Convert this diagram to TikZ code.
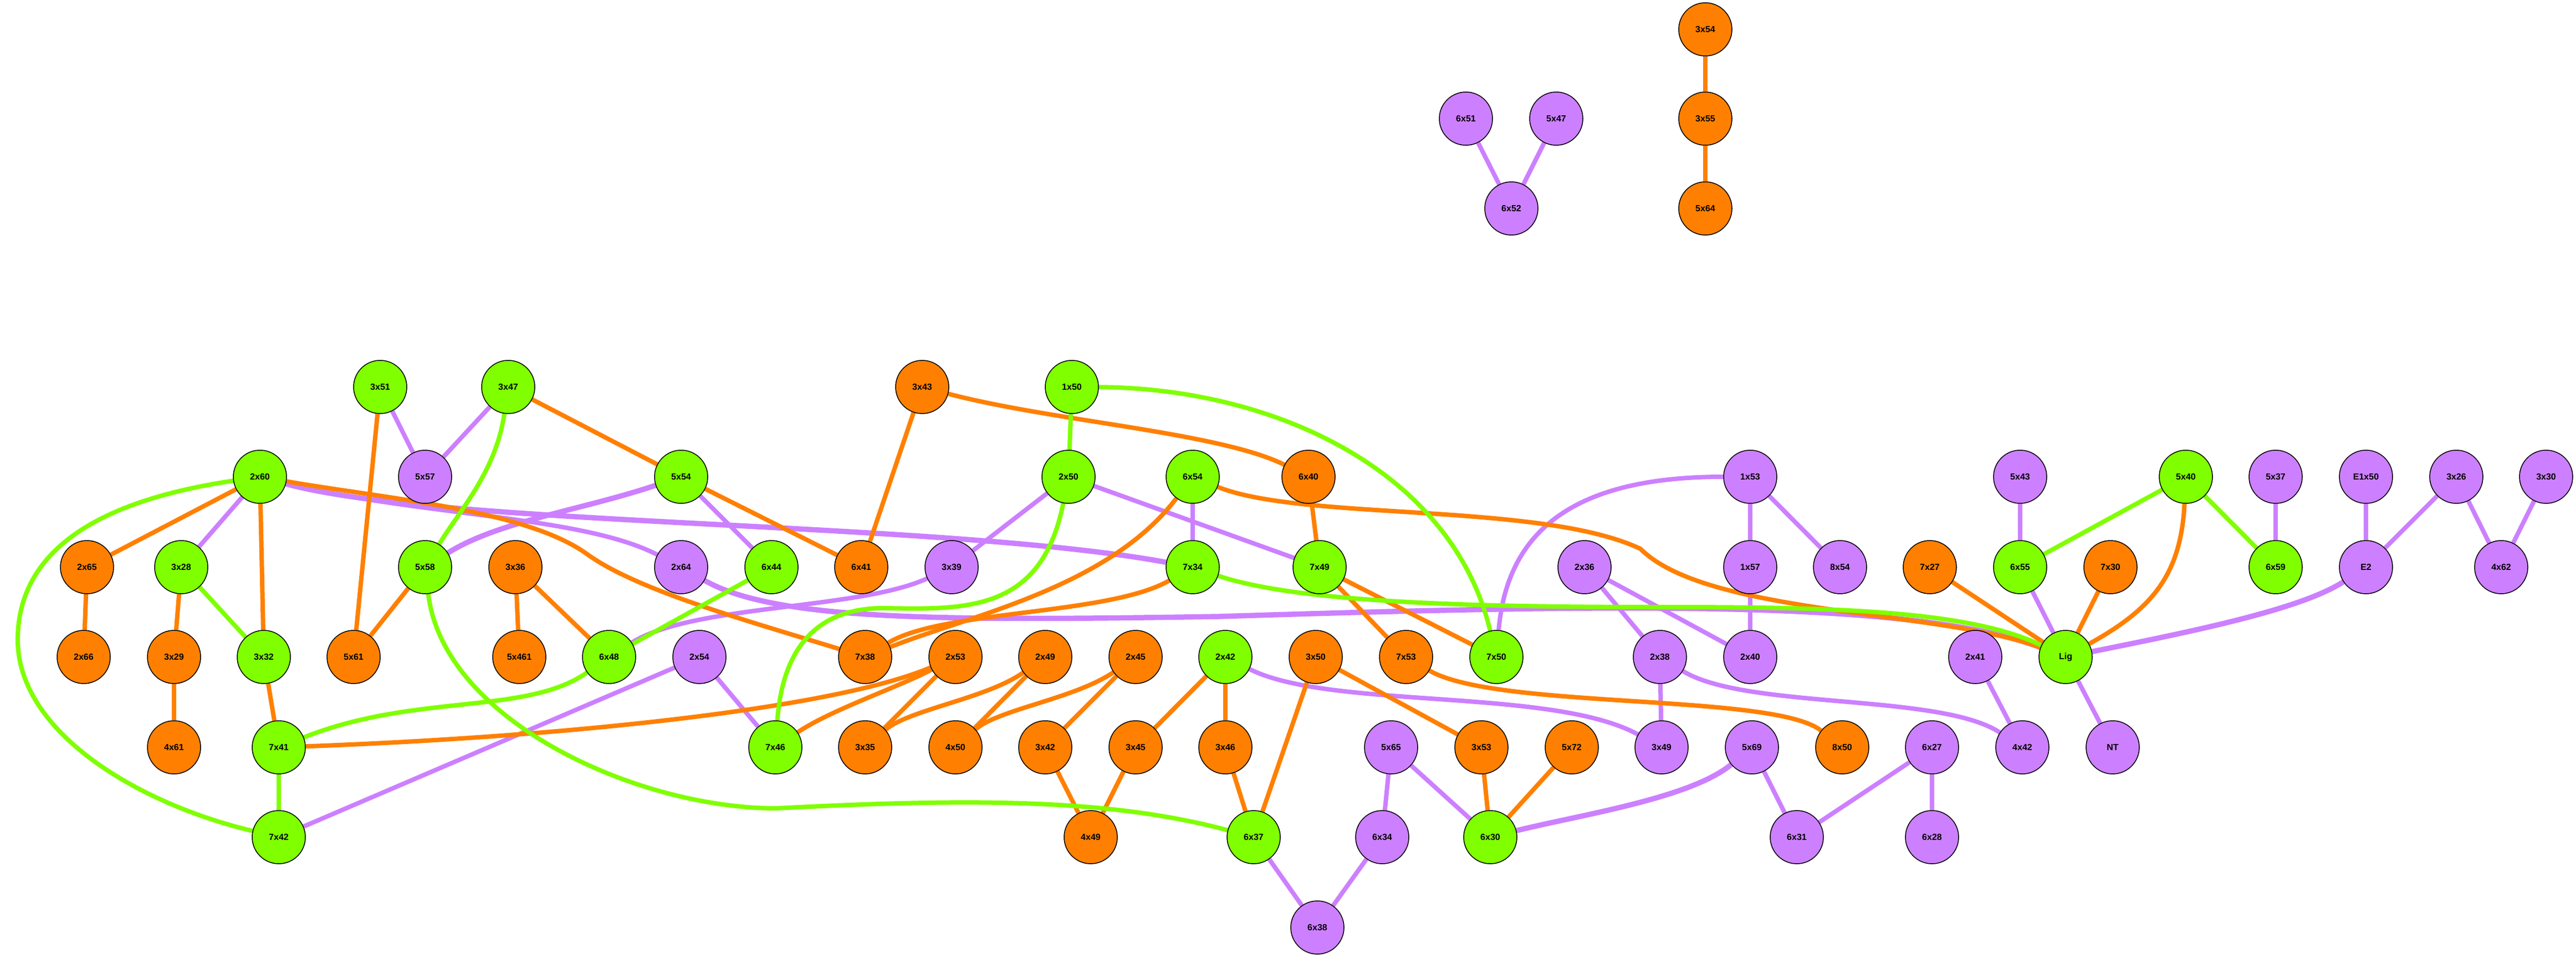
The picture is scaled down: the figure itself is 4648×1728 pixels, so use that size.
\documentclass[tikz,border=0pt]{standalone}
\usepackage{fontspec}
\setmainfont{Liberation Sans}
\usepackage{tikz}
\usetikzlibrary{backgrounds}
\definecolor{orangefill}{RGB}{255,128,0}
\definecolor{greenfill}{RGB}{128,255,0}
\definecolor{purplefill}{RGB}{204,128,255}
\tikzset{
  res/.style={circle, draw=black, line width=1.5pt, minimum size=96pt, inner sep=0pt, font=\fontsize{16}{19}\selectfont\bfseries},
  orangeres/.style={res, fill=orangefill},
  greenres/.style={res, fill=greenfill},
  purpleres/.style={res, fill=purplefill},
  orangelink/.style={draw=orangefill, line width=8pt},
  greenlink/.style={draw=greenfill, line width=8pt},
  purplelink/.style={draw=purplefill, line width=8pt},
  heavy/.style={line width=9.5pt}
}

\begin{document}
\begin{tikzpicture}[x=1pt, y=-1pt]
          \useasboundingbox (0,0) rectangle (4648,1728);

          \node[orangeres] (3x54) at (3077,53) {3x54};
          \node[orangeres] (3x55) at (3077,214) {3x55};
          \node[orangeres] (5x64) at (3077,376) {5x64};
          \node[purpleres] (6x51) at (2645,214) {6x51};
          \node[purpleres] (5x47) at (2808,214) {5x47};
          \node[purpleres] (6x52) at (2727,376) {6x52};

          \node[greenres] (3x51) at (686,698) {3x51};
          \node[greenres] (3x47) at (917,698) {3x47};
          \node[orangeres] (3x43) at (1664,698) {3x43};
          \node[greenres] (1x50) at (1934,698) {1x50};

          \node[greenres] (2x60) at (469,860) {2x60};
          \node[purpleres] (5x57) at (767,860) {5x57};
          \node[greenres] (5x54) at (1229,860) {5x54};
          \node[greenres] (2x50) at (1928,860) {2x50};
          \node[greenres] (6x54) at (2152,860) {6x54};
          \node[orangeres] (6x40) at (2361,860) {6x40};
          \node[purpleres] (1x53) at (3158,860) {1x53};
          \node[purpleres] (5x43) at (3645,860) {5x43};
          \node[greenres] (5x40) at (3944,860) {5x40};
          \node[purpleres] (5x37) at (4106,860) {5x37};
          \node[purpleres] (E1x50) at (4269,860) {E1x50};
          \node[purpleres] (3x26) at (4432,860) {3x26};
          \node[purpleres] (3x30) at (4594,860) {3x30};

          \node[orangeres] (2x65) at (157,1023) {2x65};
          \node[greenres] (3x28) at (327,1023) {3x28};
          \node[greenres] (5x58) at (767,1023) {5x58};
          \node[orangeres] (3x36) at (930,1023) {3x36};
          \node[purpleres] (2x64) at (1229,1023) {2x64};
          \node[greenres] (6x44) at (1392,1023) {6x44};
          \node[orangeres] (6x41) at (1554,1023) {6x41};
          \node[purpleres] (3x39) at (1717,1023) {3x39};
          \node[greenres] (7x34) at (2152,1023) {7x34};
          \node[greenres] (7x49) at (2381,1023) {7x49};
          \node[purpleres] (2x36) at (2859,1023) {2x36};
          \node[purpleres] (1x57) at (3158,1023) {1x57};
          \node[purpleres] (8x54) at (3320,1023) {8x54};
          \node[orangeres] (7x27) at (3482,1023) {7x27};
          \node[greenres] (6x55) at (3645,1023) {6x55};
          \node[orangeres] (7x30) at (3808,1023) {7x30};
          \node[greenres] (6x59) at (4106,1023) {6x59};
          \node[purpleres] (E2) at (4269,1023) {E2};
          \node[purpleres] (4x62) at (4513,1023) {4x62};

          \node[orangeres] (2x66) at (151,1185) {2x66};
          \node[orangeres] (3x29) at (314,1185) {3x29};
          \node[greenres] (3x32) at (476,1185) {3x32};
          \node[orangeres] (5x61) at (638,1185) {5x61};
          \node[orangeres] (5x461) at (937,1185) {5x461};
          \node[greenres] (6x48) at (1099,1185) {6x48};
          \node[purpleres] (2x54) at (1262,1185) {2x54};
          \node[orangeres] (7x38) at (1561,1185) {7x38};
          \node[orangeres] (2x53) at (1724,1185) {2x53};
          \node[orangeres] (2x49) at (1886,1185) {2x49};
          \node[orangeres] (2x45) at (2049,1185) {2x45};
          \node[greenres] (2x42) at (2211,1185) {2x42};
          \node[orangeres] (3x50) at (2374,1185) {3x50};
          \node[orangeres] (7x53) at (2537,1185) {7x53};
          \node[greenres] (7x50) at (2700,1185) {7x50};
          \node[purpleres] (2x38) at (2995,1185) {2x38};
          \node[purpleres] (2x40) at (3158,1185) {2x40};
          \node[purpleres] (2x41) at (3564,1185) {2x41};
          \node[greenres] (Lig) at (3727,1185) {Lig};

          \node[orangeres] (4x61) at (314,1348) {4x61};
          \node[greenres] (7x41) at (503,1348) {7x41};
          \node[greenres] (7x46) at (1399,1348) {7x46};
          \node[orangeres] (3x35) at (1561,1348) {3x35};
          \node[orangeres] (4x50) at (1724,1348) {4x50};
          \node[orangeres] (3x42) at (1886,1348) {3x42};
          \node[orangeres] (3x45) at (2049,1348) {3x45};
          \node[orangeres] (3x46) at (2211,1348) {3x46};
          \node[purpleres] (5x65) at (2510,1348) {5x65};
          \node[orangeres] (3x53) at (2673,1348) {3x53};
          \node[orangeres] (5x72) at (2836,1348) {5x72};
          \node[purpleres] (3x49) at (2998,1348) {3x49};
          \node[purpleres] (5x69) at (3161,1348) {5x69};
          \node[orangeres] (8x50) at (3324,1348) {8x50};
          \node[purpleres] (6x27) at (3486,1348) {6x27};
          \node[purpleres] (4x42) at (3649,1348) {4x42};
          \node[purpleres] (NT) at (3812,1348) {NT};

          \node[greenres] (7x42) at (503,1510) {7x42};
          \node[orangeres] (4x49) at (1968,1510) {4x49};
          \node[greenres] (6x37) at (2262,1510) {6x37};
          \node[purpleres] (6x34) at (2494,1510) {6x34};
          \node[greenres] (6x30) at (2689,1510) {6x30};
          \node[purpleres] (6x31) at (3242,1510) {6x31};
          \node[purpleres] (6x28) at (3486,1510) {6x28};
          \node[purpleres] (6x38) at (2377,1673) {6x38};

          \begin{pgfonlayer}{background}
          \fill[white] (0,0) rectangle (4648,1728);

          \draw[purplelink] (6x51) -- (6x52);
          \draw[purplelink] (5x47) -- (6x52);
          \draw[purplelink] (3x51) -- (5x57);
          \draw[purplelink] (3x47) -- (5x57);
          \draw[purplelink] (2x60) -- (3x28);
          \draw[purplelink] (5x54) -- (6x44);
          \draw[purplelink] (2x50) -- (3x39);
          \draw[purplelink] (2x50) -- (7x49);
          \draw[purplelink] (6x54) -- (7x34);
          \draw[purplelink] (1x53) -- (1x57);
          \draw[purplelink] (1x53) -- (8x54);
          \draw[purplelink] (1x57) -- (2x40);
          \draw[purplelink] (2x36) -- (2x38);
          \draw[purplelink] (2x36) -- (2x40);
          \draw[purplelink] (2x38) -- (3x49);
          \draw[purplelink] (5x43) -- (6x55);
          \draw[purplelink] (6x55) -- (Lig);
          \draw[purplelink] (5x37) -- (6x59);
          \draw[purplelink] (E1x50) -- (E2);
          \draw[purplelink] (3x26) -- (E2);
          \draw[purplelink] (3x26) -- (4x62);
          \draw[purplelink] (3x30) -- (4x62);
          \draw[purplelink] (2x41) -- (4x42);
          \draw[purplelink] (Lig) -- (NT);
          \draw[purplelink] (2x54) -- (7x46);
          \draw[purplelink] (2x54) -- (7x42);
          \draw[purplelink] (5x65) -- (6x34);
          \draw[purplelink] (5x65) -- (6x30);
          \draw[purplelink] (5x69) -- (6x31);
          \draw[purplelink] (6x27) -- (6x31);
          \draw[purplelink] (6x27) -- (6x28);
          \draw[purplelink] (6x34) -- (6x38);
          \draw[purplelink] (6x37) -- (6x38);
          \draw[purplelink, heavy] (2x60) .. controls (800,950) and (1700,940) .. (7x34);
          \draw[purplelink] (2x60) .. controls (750,930) and (1050,930) .. (2x64);
          \draw[purplelink, heavy] (5x54) .. controls (1050,920) and (900,940) .. (5x58);
          \draw[purplelink] (3x39) .. controls (1550,1100) and (1250,1090) .. (6x48);
          \draw[purplelink, heavy] (2x64) .. controls (1400,1120) and (1700,1120) .. (2200,1112) .. controls (2900,1090) and (3450,1080) .. (Lig);
          \draw[purplelink] (1x53) .. controls (2850,860) and (2720,950) .. (7x50);
          \draw[purplelink] (2x38) .. controls (3150,1280) and (3500,1250) .. (4x42);
          \draw[purplelink] (2x42) .. controls (2400,1280) and (2800,1240) .. (3x49);
          \draw[purplelink, heavy] (5x69) .. controls (3050,1440) and (2850,1470) .. (6x30);
          \draw[purplelink, heavy] (E2) .. controls (4150,1100) and (3950,1140) .. (Lig);

          \draw[orangelink] (3x54) -- (3x55);
          \draw[orangelink] (3x55) -- (5x64);
          \draw[orangelink] (3x51) -- (5x61);
          \draw[orangelink] (3x47) -- (5x54);
          \draw[orangelink] (2x60) -- (2x65);
          \draw[orangelink] (2x60) -- (3x32);
          \draw[orangelink] (2x65) -- (2x66);
          \draw[orangelink] (3x28) -- (3x29);
          \draw[orangelink] (3x29) -- (4x61);
          \draw[orangelink] (3x32) -- (7x41);
          \draw[orangelink] (5x58) -- (5x61);
          \draw[orangelink] (3x36) -- (5x461);
          \draw[orangelink] (3x36) -- (6x48);
          \draw[orangelink] (5x54) -- (6x41);
          \draw[orangelink] (3x43) -- (6x41);
          \draw[orangelink] (6x40) -- (7x49);
          \draw[orangelink] (7x49) -- (7x53);
          \draw[orangelink] (7x49) -- (7x50);
          \draw[orangelink] (2x53) -- (3x35);
          \draw[orangelink] (2x49) -- (4x50);
          \draw[orangelink] (2x45) -- (3x42);
          \draw[orangelink] (2x42) -- (3x45);
          \draw[orangelink] (2x42) -- (3x46);
          \draw[orangelink] (3x42) -- (4x49);
          \draw[orangelink] (3x45) -- (4x49);
          \draw[orangelink] (3x46) -- (6x37);
          \draw[orangelink] (3x50) -- (6x37);
          \draw[orangelink] (3x50) -- (3x53);
          \draw[orangelink] (3x53) -- (6x30);
          \draw[orangelink] (5x72) -- (6x30);
          \draw[orangelink] (7x27) -- (Lig);
          \draw[orangelink] (7x30) -- (Lig);
          \draw[orangelink] (2x60) .. controls (700,900) and (950,920) .. (1060,1000) .. controls (1150,1065) and (1350,1120) .. (7x38);
          \draw[orangelink] (3x43) .. controls (1900,760) and (2200,780) .. (6x40);
          \draw[orangelink] (6x54) .. controls (2000,1060) and (1750,1110) .. (7x38);
          \draw[orangelink] (7x34) .. controls (2000,1110) and (1700,1100) .. (7x38);
          \draw[orangelink] (6x54) .. controls (2350,940) and (2780,905) .. (2960,990) .. controls (3080,1110) and (3500,1100) .. (Lig);
          \draw[orangelink] (7x41) .. controls (1000,1330) and (1500,1280) .. (2x53);
          \draw[orangelink] (7x46) .. controls (1500,1280) and (1620,1240) .. (2x53);
          \draw[orangelink] (2x49) .. controls (1780,1260) and (1640,1280) .. (3x35);
          \draw[orangelink] (2x45) .. controls (1940,1260) and (1800,1280) .. (4x50);
          \draw[orangelink] (7x53) .. controls (2700,1280) and (3200,1250) .. (8x50);
          \draw[orangelink] (5x40) .. controls (3935,1040) and (3880,1100) .. (Lig);

          \draw[greenlink] (3x28) -- (3x32);
          \draw[greenlink] (7x41) -- (7x42);
          \draw[greenlink] (1x50) -- (2x50);
          \draw[greenlink] (6x44) -- (6x48);
          \draw[greenlink] (5x40) -- (6x55);
          \draw[greenlink] (5x40) -- (6x59);
          \draw[greenlink] (2x60) .. controls (200,900) and (35,980) .. (32,1150) .. controls (29,1320) and (250,1450) .. (7x42);
          \draw[greenlink] (3x47) .. controls (895,850) and (830,920) .. (5x58);
          \draw[greenlink] (5x58) .. controls (800,1300) and (1150,1458) .. (1400,1458) .. controls (1750,1440) and (2000,1440) .. (6x37);
          \draw[greenlink] (6x48) .. controls (950,1290) and (750,1250) .. (7x41);
          \draw[greenlink] (1x50) .. controls (2300,700) and (2620,850) .. (7x50);
          \draw[greenlink] (2x50) .. controls (1880,1100) and (1750,1100) .. (1600,1097) .. controls (1450,1094) and (1410,1200) .. (7x46);
          \draw[greenlink] (7x34) .. controls (2350,1090) and (2700,1095) .. (3000,1095) .. controls (3300,1095) and (3550,1100) .. (Lig);
          \end{pgfonlayer}
        \end{tikzpicture}
\end{document}
